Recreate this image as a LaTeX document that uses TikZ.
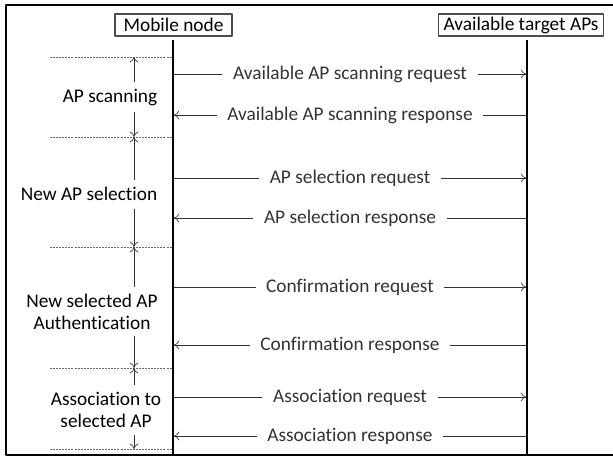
\documentclass[tikz,border=0pt]{standalone}
\usepackage{fontspec}
\setmainfont{Carlito}[Ligatures=NoCommon]
\usetikzlibrary{arrows.meta}
\tikzset{
  actor/.style={draw=black!70,line width=0.8pt,inner sep=0pt,minimum height=16.5pt,font=\fontsize{14.5}{16}\selectfont},
  life/.style={line width=1.6pt},
  msg/.style={->,line width=0.5pt,black!80},
  lbl/.style={fill=white,inner xsep=8pt,font=\fontsize{14.5}{16}\selectfont},
  phase/.style={align=center,font=\fontsize{14.5}{16}\selectfont},
  sep/.style={dashed,dash pattern=on 1.5pt off 0.8pt,line width=0.5pt,black!60},
  span/.style={->,line width=0.5pt,black!80}
}
\begin{document}
\begin{tikzpicture}[x=0.75pt,y=-0.75pt,>={To[length=4pt,width=6.5pt]},line join=round]
 \useasboundingbox (0,0) rectangle (613,460);
 % frame
 \draw[line width=1.5pt] (613,5) -- (6,5) -- (6,455) -- (613,455);
 % actors
 \node[actor,minimum width=87.75pt] (mn) at (173.5,25) {Mobile node};
 \node[actor,minimum width=124pt] (ap) at (521,25) {Available target APs};
 \coordinate (mnend) at (173,455);
 \coordinate (apend) at (527,455);
 \draw[life] (173,40) -- (mnend);
 \draw[life] (527,40) -- (apend);
 % messages
 \foreach \y/\txt/\dir in {74/Available AP scanning request/r,115/Available AP scanning response/l,
   178/AP selection request/r,218/AP selection response/l,287/Confirmation request/r,
   345/Confirmation response/l,397/Association request/r,436/Association response/l}{
   \coordinate (m\y) at (173.8,\y);
   \coordinate (a\y) at (526.2,\y);
   \if\dir r
     \draw[msg] (m\y) -- node[lbl] {\txt} (a\y);
   \else
     \draw[msg] (a\y) -- node[lbl] {\txt} (m\y);
   \fi
 }
 % phase separators
 \foreach \y in {57,137,247,368,449}{
   \coordinate (s\y) at (50,\y);
   \draw[sep] (s\y) -- (172,\y);
 }
 % phases
 \node[phase] (p1) at (110,98) {AP scanning};
 \node[phase] (p2) at (89,194) {New AP selection};
 \node[phase] (p3) at (92,312) {New selected AP\\Authentication};
 \node[phase] (p4) at (106,410) {Association to\\selected AP};
 \draw[span] (134,82) -- (134,57);
 \draw[span] (134,112) -- (134,137);
 \draw[span] (134,180) -- (134,137);
 \draw[span] (134,209) -- (134,247);
 \draw[span] (134,287) -- (134,247);
 \draw[span] (134,336) -- (134,368);
 \draw[span] (134,385) -- (134,368);
 \draw[span] (134,435) -- (134,449);
\end{tikzpicture}
\end{document}
